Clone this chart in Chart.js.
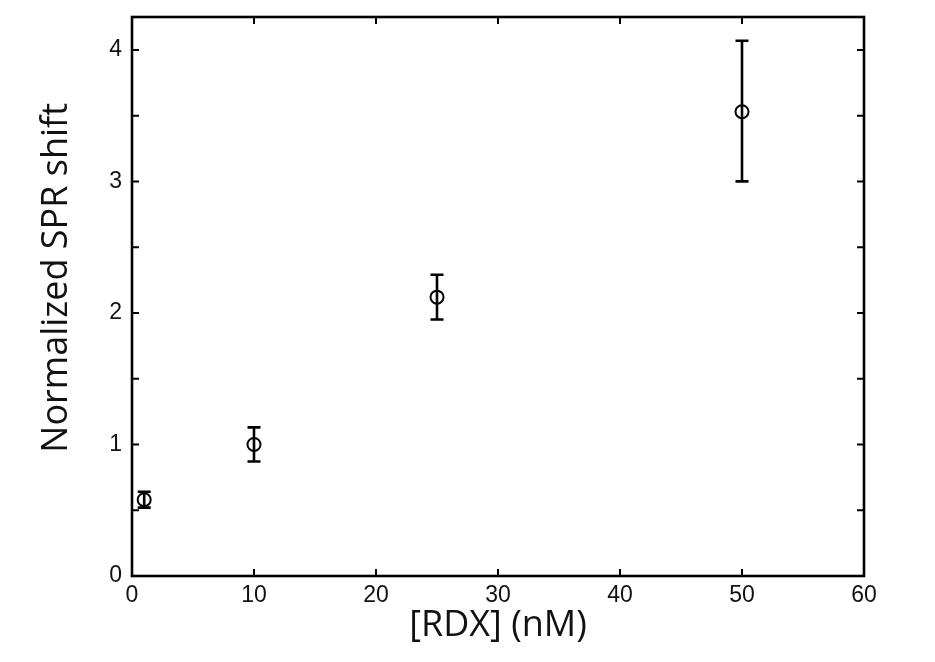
<!DOCTYPE html>
<html>
<head>
<meta charset="utf-8">
<script src="https://cdn.jsdelivr.net/npm/chart.js@4.4.1/dist/chart.umd.min.js"></script>
<style>
  html, body { margin: 0; padding: 0; background: #fff; }
  #mycanvas { display: block; }
</style>
</head>
<body>
<canvas id="mycanvas" width="935" height="662"></canvas>
<script>
// values
var rdx = [1, 10, 25, 50];
var shift = [0.58, 1.00, 2.12, 3.53];
var errLow = [0.52, 0.87, 1.95, 3.00];
var errHigh = [0.64, 1.13, 2.29, 4.07];
var xTickValues = [0, 10, 20, 30, 40, 50, 60];
var yTickLabels = [0, 1, 2, 3, 4];

var points = [];
for (var i in rdx) {
  points.push({ x: rdx[i], y: shift[i] });
}

// box + inward ticks on all four sides, and the error bars
var frame = {
  id: 'frame',
  afterDatasetsDraw: function(chart) {
    var ctx = chart.ctx;
    var a = chart.chartArea;
    var xs = chart.scales.x, ys = chart.scales.y;
    ctx.save();
    ctx.strokeStyle = '#000';
    ctx.lineWidth = 2.6;
    ctx.lineCap = 'butt';

    // error bars
    for (var i = 0; i < rdx.length; i++) {
      var px = xs.getPixelForValue(rdx[i]);
      var lo = ys.getPixelForValue(errLow[i]);
      var hi = ys.getPixelForValue(errHigh[i]);
      ctx.beginPath();
      ctx.moveTo(px, lo); ctx.lineTo(px, hi);
      ctx.moveTo(px - 6.5, lo); ctx.lineTo(px + 6.5, lo);
      ctx.moveTo(px - 6.5, hi); ctx.lineTo(px + 6.5, hi);
      ctx.stroke();
    }

    // ticks
    ctx.lineWidth = 2;
    ctx.beginPath();
    xTickValues.forEach(function(v) {
      var p = xs.getPixelForValue(v);
      ctx.moveTo(p, a.bottom); ctx.lineTo(p, a.bottom - 7);
      ctx.moveTo(p, a.top); ctx.lineTo(p, a.top + 7);
    });
    for (var v = 0; v <= 4; v += 0.5) {
      var q = ys.getPixelForValue(v);
      ctx.moveTo(a.left, q); ctx.lineTo(a.left + 7, q);
      ctx.moveTo(a.right, q); ctx.lineTo(a.right - 7, q);
    }
    ctx.stroke();

    ctx.lineWidth = 2.6;
    ctx.strokeRect(a.left, a.top, a.right - a.left, a.bottom - a.top);
    ctx.restore();
  }
};

var ctx = document.getElementById('mycanvas');

var chart = new Chart(ctx, {
  type: 'scatter',
  data: {
    datasets: [{
      label: 'Normalized SPR shift',
      data: points,
      pointStyle: 'circle',
      pointRadius: 6.5,
      pointBorderWidth: 2,
      pointBorderColor: '#000',
      pointBackgroundColor: 'rgba(255,255,255,0)',
      pointHoverRadius: 6.5
    }]
  },
  options: {
    responsive: false,
    animation: false,
    layout: { padding: { top: 17, right: 71, left: 0, bottom: 0 } },
    plugins: {
      legend: { display: false },
      tooltip: { enabled: false }
    },
    scales: {
      x: {
        type: 'linear',
        min: 0,
        max: 60,
        afterFit: function(scale) {
          scale.height = 86;
          scale.paddingLeft = 0;
          scale.paddingRight = 0;
        },
        afterBuildTicks: function(scale) {
          scale.ticks = xTickValues.map(function(v) { return { value: v }; });
        },
        grid: { display: false, drawTicks: false },
        border: { display: false },
        ticks: {
          color: '#111',
          padding: 6,
          maxRotation: 0,
          font: { family: 'Liberation Sans', size: 23 }
        },
        title: {
          display: true,
          text: '[RDX] (nM)',
          color: '#111',
          padding: { top: 0, bottom: 15 },
          font: { family: 'Open Sans', size: 36 }
        }
      },
      y: {
        type: 'linear',
        min: 0,
        max: 4.25,
        afterFit: function(scale) {
          scale.width = 132;
          scale.paddingTop = 0;
          scale.paddingBottom = 0;
        },
        afterBuildTicks: function(scale) {
          scale.ticks = yTickLabels.map(function(v) { return { value: v }; });
        },
        grid: { display: false, drawTicks: false },
        border: { display: false },
        ticks: {
          color: '#111',
          padding: 10,
          font: { family: 'Liberation Sans', size: 23 }
        },
        title: {
          display: true,
          text: '    Normalized SPR shift',
          color: '#111',
          padding: { top: 35, bottom: 0 },
          font: { family: 'Open Sans', size: 36 }
        }
      }
    }
  },
  plugins: [frame]
});
</script>
</body>
</html>
